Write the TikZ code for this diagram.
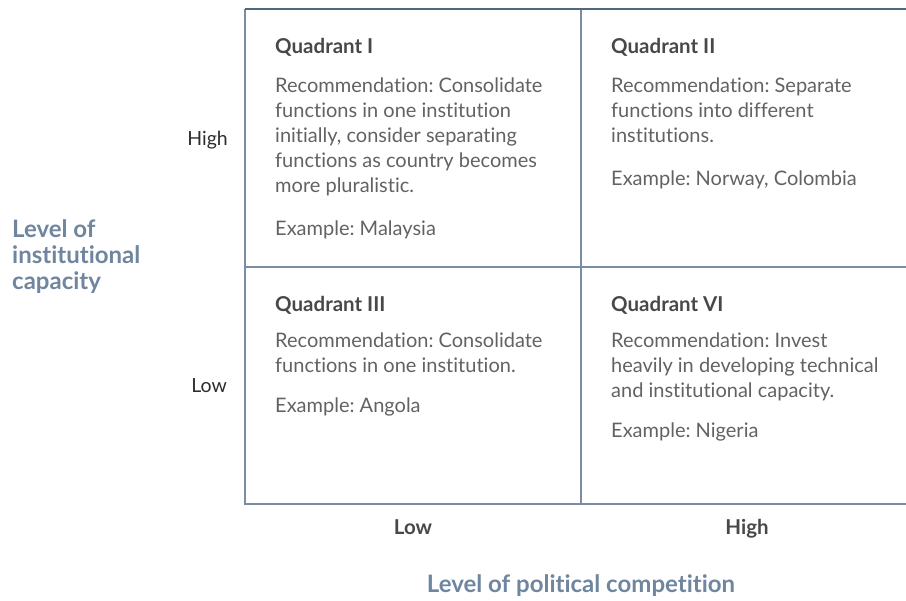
\documentclass[tikz,border=0pt]{standalone}
\usepackage{fontspec}
\setmainfont{Lato}[Ligatures={NoCommon}]
\frenchspacing
\definecolor{gridc}{RGB}{122,141,163}
\definecolor{topc}{RGB}{78,104,126}
\definecolor{axisc}{RGB}{111,134,158}
\definecolor{titc}{RGB}{72,72,72}
\definecolor{bodyc}{RGB}{98,98,98}
\definecolor{labc}{RGB}{45,45,45}
\tikzset{
  gridline/.style={draw=gridc, line width=2pt},
  topline/.style={draw=topc, line width=2pt},
  qtitle/.style={anchor=base west, inner sep=0pt, text=titc, font=\fontsize{20.5}{25}\selectfont\bfseries},
  qbody/.style={anchor=base west, inner sep=0pt, text=bodyc, align=left, font=\fontsize{20}{25}\selectfont},
  sidelab/.style={anchor=base east, inner sep=0pt, text=labc, font=\fontsize{19.5}{25}\selectfont},
  botlab/.style={anchor=base, inner sep=0pt, text=titc, font=\fontsize{20.5}{25}\selectfont\bfseries},
  axtitle/.style={inner sep=0pt, text=axisc, font=\fontsize{24}{26}\selectfont\bfseries}
}
\begin{document}
\begin{tikzpicture}[x=1pt,y=-1pt]
\useasboundingbox (0,0) rectangle (906,601);
\coordinate (tl) at (245,9);
\coordinate (tr) at (906,9);
\coordinate (bl) at (245,504);
\coordinate (br) at (906,504);
\coordinate (mt) at (581,9);
\coordinate (mb) at (581,504);
\coordinate (ml) at (245,267);
\coordinate (mr) at (906,267);
\draw[gridline] (tl) -- (bl) -- (br);
\draw[gridline] (mt) -- (mb);
\draw[gridline] (ml) -- (mr);
\draw[topline] (tl) -- (tr);

% Quadrant I (body node anchored at last line baseline)
\node[qtitle] (q1t) at (275,54) {Quadrant I};
\node[qbody] (q1b) at (275,193) {Recommendation: Consolidate\\functions in one institution\\initially, consider separating\\functions as country becomes\\more pluralistic.};
\node[qbody] (q1e) at (275,236) {Example: Malaysia};
% Quadrant II
\node[qtitle] (q2t) at (611,54) {Quadrant II};
\node[qbody] (q2b) at (611,143) {Recommendation: Separate\\functions into different\\institutions.};
\node[qbody] (q2e) at (611,186) {Example: Norway, Colombia};
% Quadrant III
\node[qtitle] (q3t) at (275,312) {Quadrant III};
\node[qbody] (q3b) at (275,373) {Recommendation: Consolidate\\functions in one institution.};
\node[qbody] (q3e) at (275,413) {Example: Angola};
% Quadrant VI
\node[qtitle] (q4t) at (611,312) {Quadrant VI};
\node[qbody] (q4b) at (611,398) {Recommendation: Invest\\heavily in developing technical\\and institutional capacity.};
\node[qbody] (q4e) at (611,438) {Example: Nigeria};

% side labels
\node[sidelab] (yhigh) at (228,146) {High};
\node[sidelab] (ylow) at (227,393) {Low};
\node[axtitle, anchor=base west, align=left] (ytitle) at (12,290) {Level of\\institutional\\capacity};

% bottom labels
\node[botlab] (xlow) at (413,535) {Low};
\node[botlab] (xhigh) at (747,535) {High};
\node[axtitle, anchor=base] (xtitle) at (581,593) {Level of political competition};
\end{tikzpicture}
\end{document}
